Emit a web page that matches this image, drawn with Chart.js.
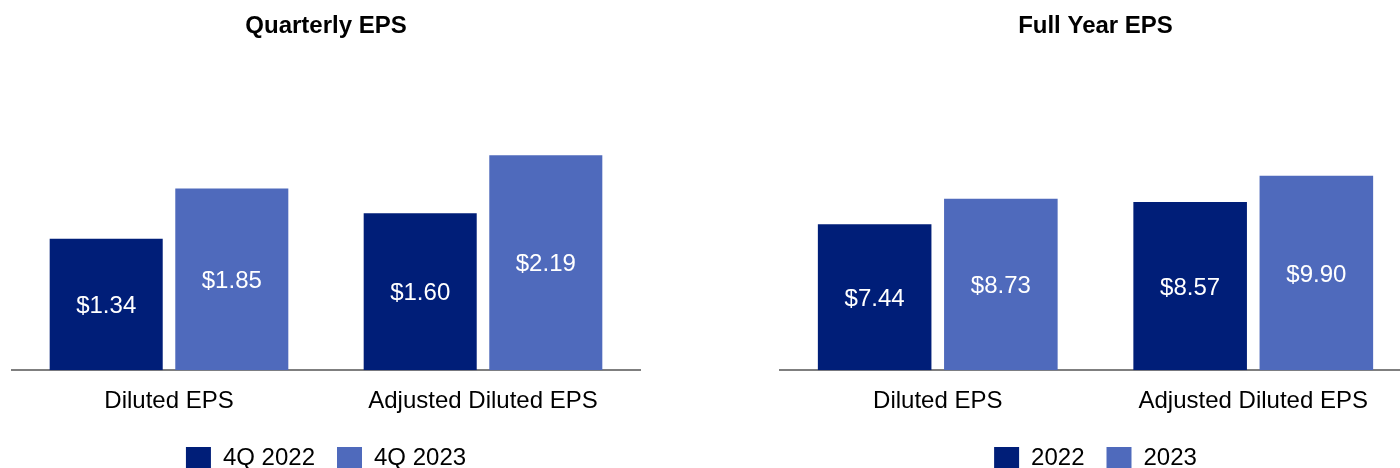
<!DOCTYPE html>
<html lang="en">
<head>
    <meta charset="UTF-8">
    <title>EPS</title>
    <style>
        * { margin: 0; padding: 0; box-sizing: border-box; }
        html, body { width: 1400px; height: 468px; overflow: hidden; background: #fff; }
        .chart-box { position: absolute; top: 0; height: 480px; }
        #left { left: 0; width: 652px; }
        #right { left: 768px; width: 655px; }
    </style>
</head>
<body>
    <div class="chart-box" id="left"><canvas id="quarterlyChart"></canvas></div>
    <div class="chart-box" id="right"><canvas id="fullYearChart"></canvas></div>

    <script src="https://cdn.jsdelivr.net/npm/chart.js"></script>
    <script>
        const categories = ['Diluted EPS', 'Adjusted Diluted EPS'];

        const quarterLabels = ['4Q 2022', '4Q 2023'];
        const q2022 = [1.34, 1.60];
        const q2023 = [1.85, 2.19];

        const yearLabels = ['2022', '2023'];
        const fy2022 = [7.44, 8.57];
        const fy2023 = [8.73, 9.90];

        const darkBlue = '#001E78';
        const lightBlue = '#4F6ABC';
        const fontFamily = '"Liberation Sans", Arial, sans-serif';

        // white $ labels in the middle of each bar
        const valueLabels = {
            id: 'valueLabels',
            afterDatasetsDraw(chart) {
                const ctx = chart.ctx;
                ctx.save();
                ctx.fillStyle = '#ffffff';
                ctx.font = '24px ' + fontFamily;
                ctx.textAlign = 'center';
                ctx.textBaseline = 'middle';
                chart.data.datasets.forEach((ds, i) => {
                    chart.getDatasetMeta(i).data.forEach((bar, j) => {
                        const y = (bar.y + bar.base) / 2 + 2;
                        ctx.fillText('$' + ds.data[j].toFixed(2), bar.x, y);
                    });
                });
                ctx.restore();
            }
        };

        function makeChart(id, title, labels, a, b, yMax) {
            return new Chart(document.getElementById(id), {
                type: 'bar',
                data: {
                    labels: categories,
                    datasets: [
                        { label: labels[0], data: a, backgroundColor: darkBlue },
                        { label: labels[1], data: b, backgroundColor: lightBlue }
                    ]
                },
                options: {
                    responsive: true,
                    maintainAspectRatio: false,
                    animation: false,
                    layout: { padding: { left: 12, right: 12, top: 0, bottom: 0 } },
                    scales: {
                        x: {
                            grid: { display: false },
                            border: { display: true, color: '#7f7f7f', width: 2 },
                            ticks: { color: '#000', font: { family: fontFamily, size: 24 }, padding: 9 },
                            // pull the legend a bit closer to the category labels
                            afterFit(scale) { scale.height -= 1; }
                        },
                        y: { display: false, min: 0, max: yMax }
                    },
                    plugins: {
                        title: {
                            display: true,
                            text: title,
                            color: '#000',
                            font: { family: fontFamily, size: 24, weight: 'bold' },
                            padding: { top: 12, bottom: 84 }
                        },
                        legend: {
                            position: 'bottom',
                            labels: {
                                color: '#000',
                                font: { family: fontFamily, size: 24 },
                                boxWidth: 25,
                                boxHeight: 22,
                                padding: 22
                            }
                        },
                        tooltip: { enabled: false }
                    }
                },
                plugins: [valueLabels]
            });
        }

        makeChart('quarterlyChart', 'Quarterly EPS', quarterLabels, q2022, q2023, 2.5);
        makeChart('fullYearChart', 'Full Year EPS', yearLabels, fy2022, fy2023, 12.5);
    </script>
</body>
</html>
